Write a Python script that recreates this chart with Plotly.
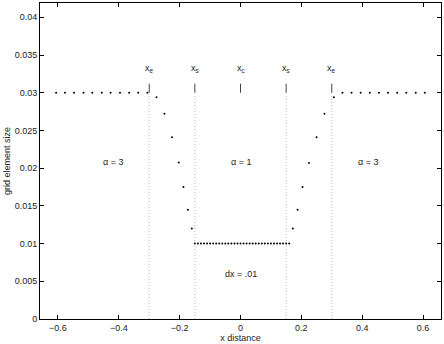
import plotly.graph_objects as go

# ---- data ----
far_left_x = [-0.606, -0.577, -0.547, -0.516, -0.487, -0.456, -0.427, -0.396, -0.366, -0.336, -0.306]
far_left_y = [0.03] * 11

trans_left_x = [-0.276, -0.25, -0.225, -0.203, -0.1875, -0.173, -0.16]
trans_left_y = [0.0294, 0.0272, 0.0241, 0.02075, 0.0175, 0.0145, 0.0120]

core_x = [-0.15, -0.14, -0.13, -0.12, -0.11, -0.10, -0.09, -0.08, -0.07, -0.06, -0.05,
          -0.04, -0.03, -0.02, -0.01, 0.0, 0.01, 0.02, 0.03, 0.04, 0.05, 0.06, 0.07,
          0.08, 0.09, 0.10, 0.11, 0.12, 0.13, 0.14, 0.15, 0.16]
core_y = [0.01] * 32

trans_right_x = [0.172, 0.1875, 0.204, 0.225, 0.25, 0.276, 0.307]
trans_right_y = [0.0120, 0.0145, 0.0175, 0.0207, 0.0241, 0.0272, 0.0294]

far_right_x = [0.335, 0.365, 0.395, 0.425, 0.455, 0.485, 0.515, 0.545, 0.576, 0.606]
far_right_y = [0.03] * 10

boundary_x = [-0.3, -0.15, 0.0, 0.15, 0.3]
boundary_labels = ["x<sub>e</sub>", "x<sub>s</sub>", "x<sub>c</sub>", "x<sub>s</sub>", "x<sub>e</sub>"]
dotted_x = [-0.3, -0.15, 0.15, 0.3]

region_text = ["\u03b1 = 3", "\u03b1 = 1", "\u03b1 = 3", "dx = .01"]
region_x = [-0.42, 0.0, 0.42, 0.0]
region_y = [0.0208, 0.0208, 0.0208, 0.006]

x_ticks = [-0.6, -0.4, -0.2, 0, 0.2, 0.4, 0.6]
x_ticktext = ["\u22120.6", "\u22120.4", "\u22120.2", "0", "0.2", "0.4", "0.6"]
y_ticks = [0, 0.005, 0.01, 0.015, 0.02, 0.025, 0.03, 0.035, 0.04]
y_ticktext = ["0", "0.005", "0.01", "0.015", "0.02", "0.025", "0.03", "0.035", "0.04"]

xs = far_left_x + trans_left_x + core_x + trans_right_x + far_right_x
ys = far_left_y + trans_left_y + core_y + trans_right_y + far_right_y

FONT = "Liberation Sans, Arial, sans-serif"

fig = go.Figure()
fig.add_trace(go.Scatter(x=xs, y=ys, mode="markers",
                         marker=dict(color="black", size=2, line=dict(width=0)),
                         showlegend=False, hoverinfo="skip"))

shapes = []
for bx in dotted_x:
    shapes.append(dict(type="line", xref="x", yref="y", x0=bx, x1=bx, y0=0, y1=0.0296,
                       line=dict(color="#b8b8b8", width=1, dash="1px,2px"), layer="below"))
for bx in boundary_x:
    shapes.append(dict(type="line", xref="x", yref="y", x0=bx, x1=bx, y0=0.0300, y1=0.0312,
                       line=dict(color="#444444", width=1)))

annotations = []
for bx, lab in zip(boundary_x, boundary_labels):
    annotations.append(dict(x=bx, y=0.0332, xref="x", yref="y", text=lab, showarrow=False,
                            font=dict(family=FONT, size=9, color="#222222")))
for tx, rx, ry in zip(region_text, region_x, region_y):
    annotations.append(dict(x=rx, y=ry, xref="x", yref="y", text=tx, showarrow=False,
                            font=dict(family=FONT, size=9, color="#222222")))

fig.update_layout(
    width=444, height=344,
    margin=dict(l=40, r=3, t=3, b=25),
    paper_bgcolor="white", plot_bgcolor="white",
    font=dict(family=FONT, size=9, color="#222222"),
    shapes=shapes, annotations=annotations,
    xaxis=dict(range=[-0.659, 0.659], tickvals=x_ticks, ticktext=x_ticktext,
               showgrid=False, zeroline=False, showline=True, linecolor="black", linewidth=1,
               mirror="ticks", ticks="inside", ticklen=4, tickcolor="black",
               title=dict(text="x distance", font=dict(size=9), standoff=2)),
    yaxis=dict(range=[0, 0.0419], tickvals=y_ticks, ticktext=y_ticktext,
               showgrid=False, zeroline=False, showline=True, linecolor="black", linewidth=1,
               mirror="ticks", ticks="inside", ticklen=4, tickcolor="black",
               title=dict(text="grid element size", font=dict(size=9), standoff=2)),
)

fig.write_html("out.html")
